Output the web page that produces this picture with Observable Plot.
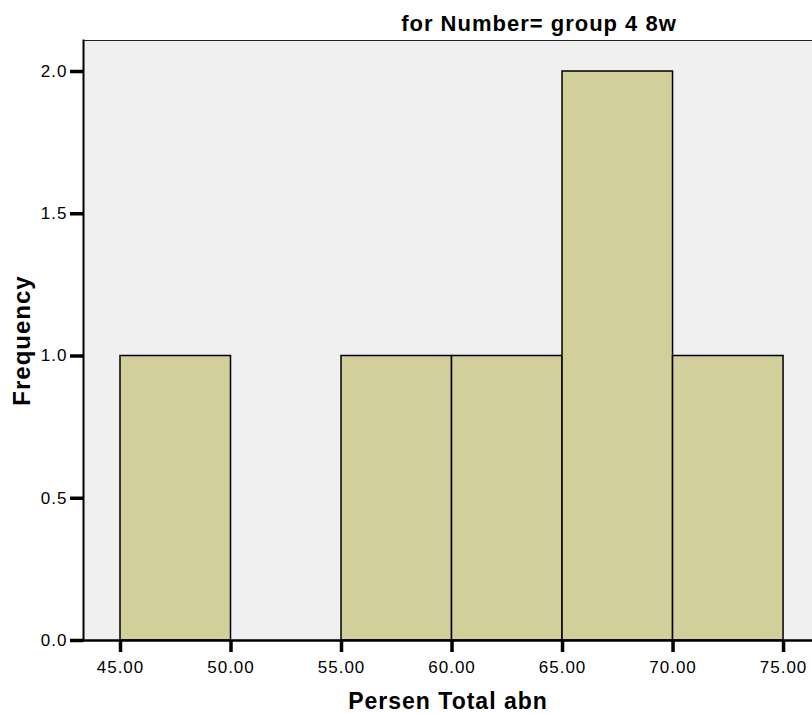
<!DOCTYPE html>
<html>
<head>
<meta charset="utf-8">
<script src="https://cdn.jsdelivr.net/npm/d3@7"></script>
<script src="https://cdn.jsdelivr.net/npm/@observablehq/plot@0.6"></script>
<style>
  html, body { margin: 0; padding: 0; background: #ffffff; }
  #chart svg { display: block; }
  #chart svg text { letter-spacing: 1px; }
</style>
</head>
<body>
<div id="chart"></div>
<script>
// Histogram bins (Persen Total abn) and frequencies
const binStart = [45, 50, 55, 60, 65, 70];
const binEnd   = [50, 55, 60, 65, 70, 75];
const freq     = [1, 0, 1, 1, 2, 1];
const xTicks = [45, 50, 55, 60, 65, 70, 75];
const yTicks = [0, 0.5, 1.0, 1.5, 2.0];
const title = "for Number= group 4 8w";
const xLabel = "Persen Total abn";
const yLabel = "Frequency";

const bins = binStart.map((s, i) => ({x1: s, x2: binEnd[i], y: freq[i]})).filter(d => d.y > 0);

const font = "'Liberation Sans', Arial, sans-serif";

const chart = Plot.plot({
  width: 812,
  height: 713,
  marginLeft: 83,
  marginRight: 0,
  marginTop: 40,
  marginBottom: 73,
  style: {fontFamily: font, fontSize: "17px", color: "#000", background: "#fff"},
  x: {domain: [43.326, 76.31]},
  y: {domain: [0, 2.109]},
  marks: [
    Plot.frame({fill: "#f0f0f0", stroke: null}),
    Plot.rectY(bins, {x1: "x1", x2: "x2", y: "y", fill: "#d3cf9a", stroke: "#000", strokeWidth: 1.5}),
    Plot.frame({anchor: "top", stroke: "#222", strokeWidth: 1.2}),
    Plot.frame({anchor: "left", stroke: "#000", strokeWidth: 2}),
    Plot.frame({anchor: "bottom", stroke: "#000", strokeWidth: 2.5}),
    Plot.axisX(xTicks, {
      anchor: "bottom", tickFormat: d3.format(".2f"), tickSize: 12, strokeWidth: 3.5,
      tickPadding: 8, fontSize: 17, label: null
    }),
    Plot.axisY(yTicks, {
      anchor: "left", tickFormat: d3.format(".1f"), tickSize: 13, strokeWidth: 3.5,
      tickPadding: 3, fontSize: 17, label: null
    }),
    Plot.text([xLabel], {frameAnchor: "bottom", lineAnchor: "top", dy: 52, fontSize: 23, fontWeight: "bold"}),
    Plot.text([yLabel], {frameAnchor: "left", textAnchor: "middle", rotate: -90, lineAnchor: "bottom", dx: -54, fontSize: 24, fontWeight: "bold"}),
    Plot.text([title], {frameAnchor: "top", lineAnchor: "top", dy: -25, dx: 91, fontSize: 22, fontWeight: "bold"})
  ]
});

document.getElementById("chart").appendChild(chart);
</script>
</body>
</html>
